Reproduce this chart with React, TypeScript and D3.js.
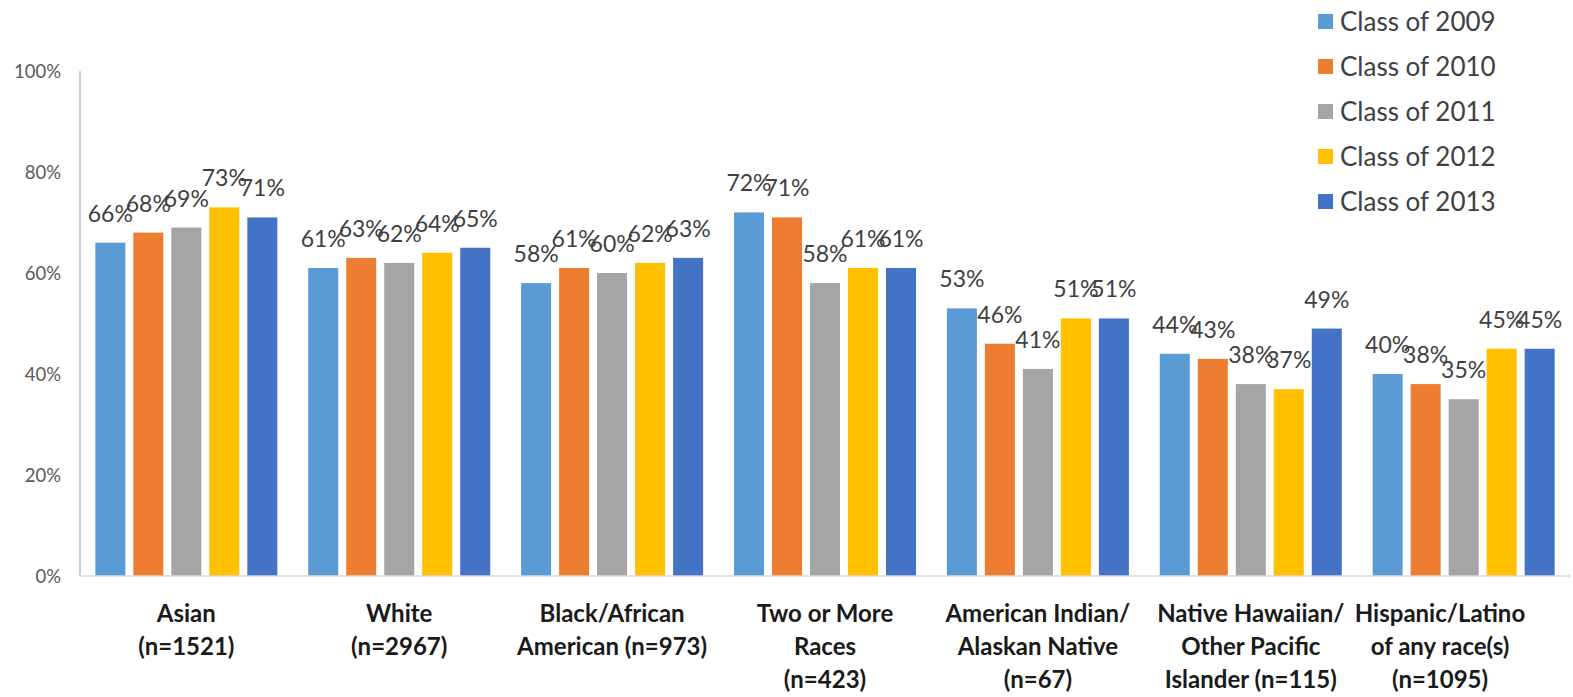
import React from 'react';
import * as d3 from 'd3';

const categories = [
  ['Asian', '(n=1521)'],
  ['White', '(n=2967)'],
  ['Black/African', 'American (n=973)'],
  ['Two or More', 'Races', '(n=423)'],
  ['American Indian/', 'Alaskan Native', '(n=67)'],
  ['Native Hawaiian/', 'Other Pacific', 'Islander (n=115)'],
  ['Hispanic/Latino', 'of any race(s)', '(n=1095)'],
];
const seriesNames = ['Class of 2009', 'Class of 2010', 'Class of 2011', 'Class of 2012', 'Class of 2013'];
const colors = ['#5B9BD5', '#ED7D31', '#A5A5A5', '#FFC000', '#4472C4'];

// values per series, one entry per category
const class2009 = [66, 61, 58, 72, 53, 44, 40];
const class2010 = [68, 63, 61, 71, 46, 43, 38];
const class2011 = [69, 62, 60, 58, 41, 38, 35];
const class2012 = [73, 64, 62, 61, 51, 37, 45];
const class2013 = [71, 65, 63, 61, 51, 49, 45];
const series = [class2009, class2010, class2011, class2012, class2013];

const yTicks = [0, 20, 40, 60, 80, 100];

const W = 1573, H = 697;
const left = 80, right = 1570, top = 71, bottom = 576;
const font = 'Lato, "Open Sans", sans-serif';

const App = () => {
  const x0 = d3.scaleBand<number>()
    .domain(d3.range(categories.length))
    .range([left, right])
    .paddingInner(0.145)
    .paddingOuter(0.072);
  const x1 = d3.scaleBand<number>()
    .domain(d3.range(series.length))
    .range([0, x0.bandwidth()])
    .paddingInner(0.21);
  const y = d3.scaleLinear().domain([0, 100]).range([bottom, top]);

  return (
    <div style={{ position: 'absolute', left: 0, top: 0 }}>
      <svg width={W} height={H} style={{ display: 'block', background: '#fff' }}>
        {/* y axis */}
        <line x1={left} x2={left} y1={top} y2={bottom} stroke="#bfbfbf" strokeWidth={1.5} />
        {yTicks.map(t => (
          <text key={t} x={61} y={y(t) + 6.5} textAnchor="end" fontFamily={font} fontSize={18.5} fill="#595959">
            {t}%
          </text>
        ))}
        {/* bars */}
        {categories.map((c, ci) => (
          <g key={ci} transform={`translate(${x0(ci)},0)`}>
            {series.map((s, si) => (
              <rect key={si} x={x1(si)} y={y(s[ci])} width={x1.bandwidth()} height={bottom - y(s[ci])} fill={colors[si]} />
            ))}
            {series.map((s, si) => (
              <text key={'l' + si} x={(x1(si) as number) + x1.bandwidth() / 2} y={y(s[ci]) - 21}
                textAnchor="middle" fontFamily={font} fontSize={23} fill="#404040">
                {s[ci]}%
              </text>
            ))}
          </g>
        ))}
        {/* x axis */}
        <line x1={left} x2={right} y1={bottom} y2={bottom} stroke="#d9d9d9" strokeWidth={1.5} />
        {categories.map((c, ci) => {
          const cx = Math.min((x0(ci) as number) + x0.bandwidth() / 2, 1440);
          return (
            <text key={ci} x={cx} textAnchor="middle" fontFamily={font} fontSize={24} fontWeight="bold" fill="#1a1a1a">
              {c.map((line, li) => (
                <tspan key={li} x={cx} y={622 + li * 33}>{line}</tspan>
              ))}
            </text>
          );
        })}
        {/* legend */}
        {seriesNames.map((n, i) => (
          <g key={n} transform={`translate(1318,${22 + i * 45})`}>
            <rect x={0} y={-8} width={15} height={15} fill={colors[i]} />
            <text x={22} y={9} fontFamily={font} fontSize={26} fill="#404040">{n}</text>
          </g>
        ))}
      </svg>
    </div>
  );
};

export default App;
